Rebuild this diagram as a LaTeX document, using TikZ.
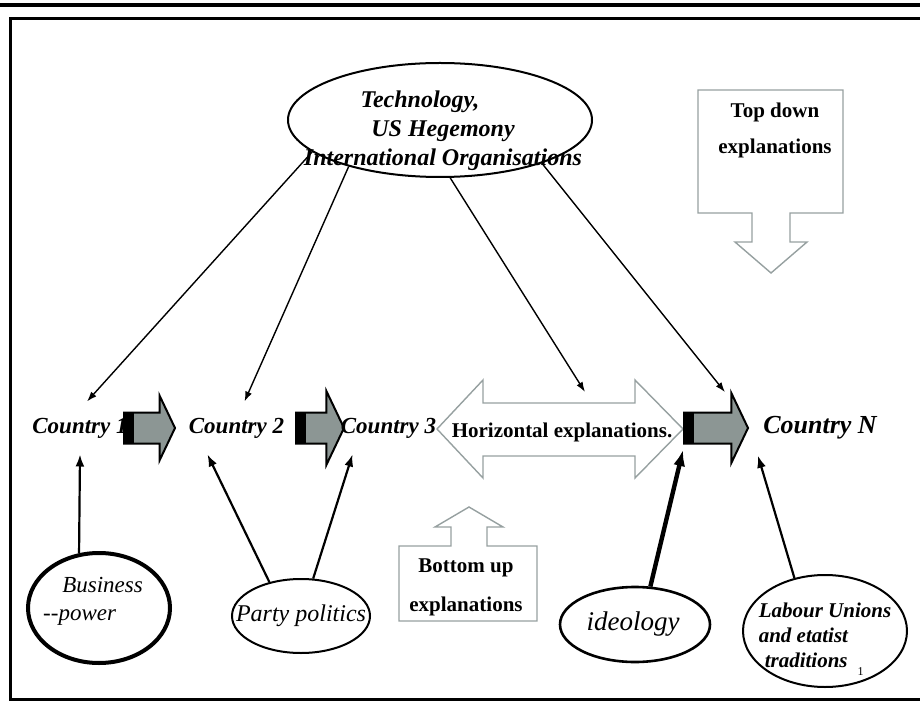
\documentclass[tikz,border=0pt]{standalone}
\usepackage{fontspec}
\setmainfont{Liberation Serif}
\usetikzlibrary{shapes.geometric, shapes.arrows, arrows.meta, positioning, calc}
\definecolor{blockgray}{RGB}{140,150,148}
\definecolor{hollowgray}{RGB}{150,160,160}
\tikzstyle{country} = [font=\fontsize{11.5}{13}\selectfont\bfseries\itshape, inner xsep=2pt, inner ysep=8pt]
\tikzstyle{factor} = [ellipse, draw, line width=1pt, inner sep=0pt]
\tikzstyle{factortext} = [inner sep=0pt, align=left]
\tikzstyle{blockarr} = [single arrow, draw, line width=1pt, fill=blockgray, minimum height=25.5pt, minimum width=1pt, inner xsep=0pt, inner ysep=7.25pt, single arrow head extend=8.5pt, single arrow tip angle=129, path picture={\fill[black] (path picture bounding box.south west) rectangle ([xshift=5pt]path picture bounding box.north west);}]
\tikzstyle{hollow} = [draw=hollowgray, line width=0.7pt]
\tikzstyle{explabel} = [font=\fontsize{10.5}{18}\selectfont\bfseries, align=center]
\tikzstyle{arrow} = [-{Latex[length=5pt,width=3.5pt]}, line width=0.7pt]
\tikzstyle{uparrow} = [-{Latex[length=6pt,width=4.5pt]}, line width=1.1pt]

\begin{document}
\begin{tikzpicture}[x=0.5pt, y=-0.5pt]
  \useasboundingbox (0,0) rectangle (920,705);
  \draw[line width=2pt] (0,5) -- (920,5);
  \draw[line width=1.5pt] (925,19) -- (10,19) -- (10,699) -- (925,699);

  % hollow explanation arrows
  \draw[hollow] (698,90) -- (843,90) -- (843,213) -- (790,213) -- (790,242) -- (807,242) -- (771,273) -- (735,242) -- (752,242) -- (752,213) -- (698,213) -- cycle;
  \node[explabel] (tdlabel) at (775,130) {Top down\\explanations};
  \draw[hollow] (469,507) -- (503,527) -- (487,527) -- (487,546) -- (537,546) -- (537,621) -- (399,621) -- (399,546) -- (451,546) -- (451,527) -- (435,527) -- cycle;
  \node[explabel, font=\fontsize{10.5}{19.5}\selectfont\bfseries] (bulabel) at (466,587) {Bottom up\\explanations};
  \draw[hollow] (437,429) -- (483,380) -- (483,403) -- (635,403) -- (635,380) -- (683,429) -- (635,478) -- (635,456) -- (483,456) -- (483,478) -- cycle;
  \node[explabel] (hzlabel) at (562,432) {Horizontal explanations.};
  \coordinate (hztop) at (585,392);

  % top driver
  \node[factor, minimum width=152pt, minimum height=57pt,
    label={[factortext, align=center, xshift=1.5pt, yshift=-5.5pt, font=\fontsize{12}{14.5}\selectfont\bfseries\itshape]center:{Technology,\hspace*{23pt}\\US Hegemony\hspace*{16pt}\\International Organisations}}] (tech) at (440,120) {};

  % countries
  \node[country] (c1) at (80,428) {Country 1};
  \node[country] (c2) at (236.5,428) {Country 2};
  \node[blockarr, anchor=tail] (ba1) at (123,428) {};
  \node[blockarr, anchor=tail, minimum height=24pt, single arrow head extend=10.75pt] (ba2) at (295,428) {};
  \node[country] (c3) at (388.5,428) {Country 3};
  \node[blockarr, anchor=tail, minimum height=32pt, single arrow head extend=9.75pt] (ba3) at (683,428) {};
  \node[country, font=\fontsize{13}{15}\selectfont\bfseries\itshape] (cn) at (820,428) {Country N};

  % bottom factors
  \node[factor, line width=2pt, minimum width=71pt, minimum height=55pt,
    label={[factortext, xshift=-3pt, yshift=3.5pt, font=\fontsize{11.5}{14}\selectfont\itshape]center:{\hspace*{9.5pt}Business\\-{}-power}}] (business) at (99,608) {};
  \node[factor, minimum width=69pt, minimum height=37pt,
    label={[factortext, font=\fontsize{12}{14}\selectfont\itshape]center:{Party politics}}] (party) at (301,616) {};
  \node[factor, line width=1.3pt, minimum width=75pt, minimum height=37.5pt,
    label={[factortext, xshift=-1pt, font=\fontsize{13.5}{16}\selectfont\itshape]center:{ideology}}] (ideology) at (635,624.5) {};
  \node[factor, minimum width=82pt, minimum height=56pt,
    label={[factortext, yshift=-4pt, font=\fontsize{10.5}{12.5}\selectfont\bfseries\itshape]center:{Labour Unions\\and etatist\\\hspace*{3pt}traditions\hspace{5pt}\raisebox{-4pt}{\normalfont\fontsize{6}{6}\selectfont 1}}}] (labour) at (825,631) {};

  % influences
  \draw[arrow] (tech.194) -- ([xshift=3.5pt]c1.north);
  \draw[arrow] (tech.207) -- ([xshift=4pt]c2.north);
  \draw[arrow] (tech.280) -- (hztop);
  \draw[arrow] (tech.337) -- ([xshift=-47.5pt,yshift=4pt]cn.north);
  \draw[uparrow] (business.110) -- (c1.south);
  \draw[uparrow] (party.133) -- ([xshift=-14.5pt]c2.south);
  \draw[uparrow] (party.72) -- ([xshift=-18pt]c3.south);
  \draw[-{Latex[length=8pt,width=6pt]}, line width=2.2pt] (ideology.68) -- ([yshift=-11pt]ba3.tail);
  \draw[uparrow] (labour.120) -- ([xshift=-31pt]cn.south);
\end{tikzpicture}
\end{document}
